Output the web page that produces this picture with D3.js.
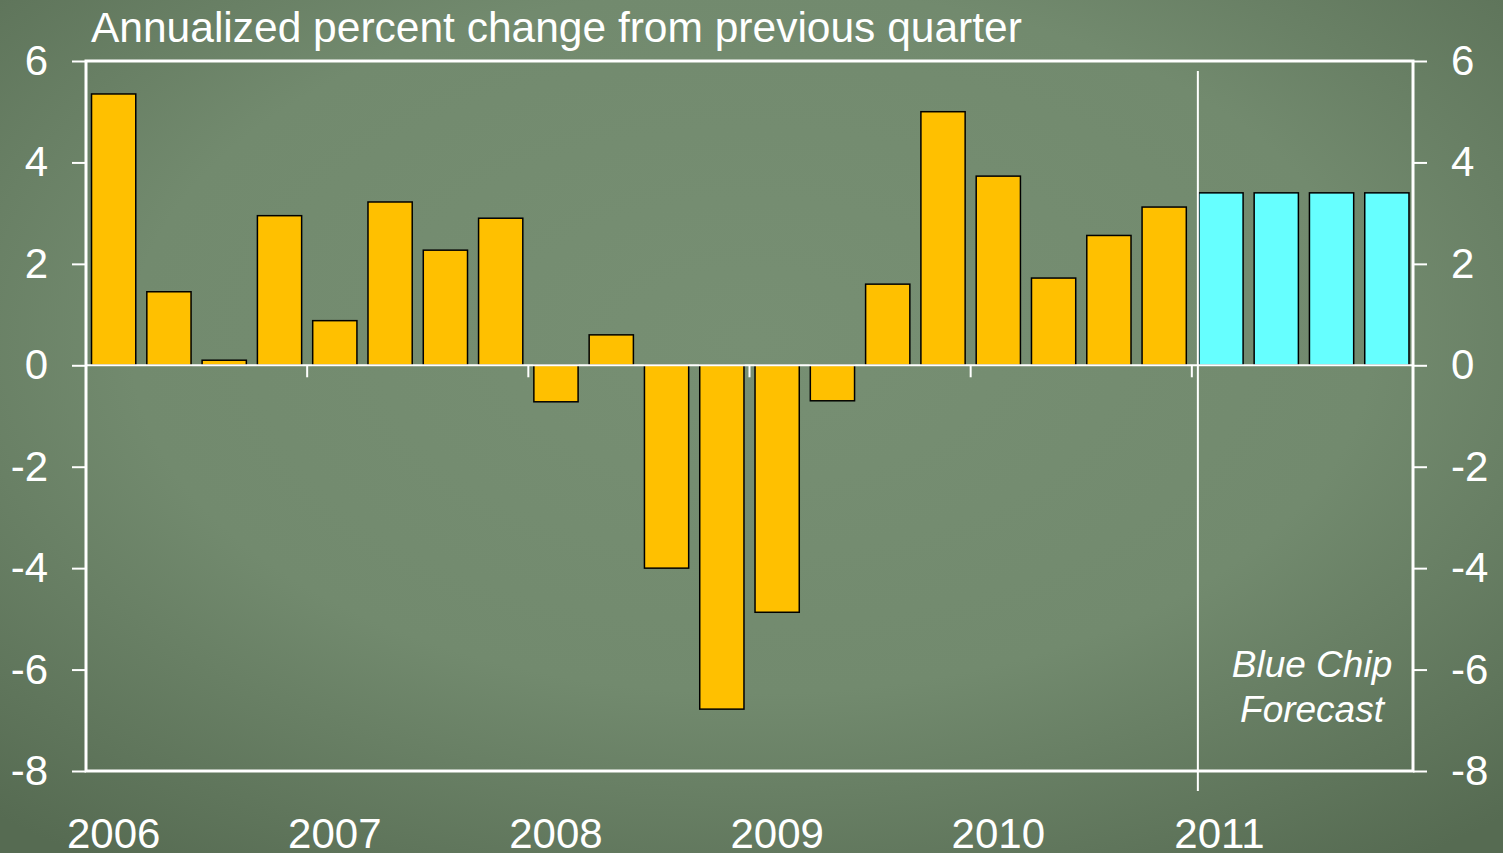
<!DOCTYPE html>
<html>
<head>
<meta charset="utf-8">
<script src="https://cdn.jsdelivr.net/npm/d3@7"></script>
<style>
  body { margin: 0; overflow: hidden; }
  svg { display: block; font-family: "Liberation Sans", Arial, sans-serif; }
</style>
</head>
<body>
<svg id="chart" width="1503" height="853"></svg>
<script>
var quarters = ["2006Q1","2006Q2","2006Q3","2006Q4","2007Q1","2007Q2","2007Q3","2007Q4",
                "2008Q1","2008Q2","2008Q3","2008Q4","2009Q1","2009Q2","2009Q3","2009Q4",
                "2010Q1","2010Q2","2010Q3","2010Q4","2011Q1","2011Q2","2011Q3","2011Q4"];
var actual = [5.35, 1.45, 0.1, 2.95, 0.88, 3.22, 2.27, 2.9,
              -0.72, 0.6, -4.0, -6.78, -4.87, -0.7, 1.6, 5.0,
              3.73, 1.72, 2.56, 3.12];
var forecast = [3.4, 3.4, 3.4, 3.4];
var yTicks = [6, 4, 2, 0, -2, -4, -6, -8];
var years = ["2006","2007","2008","2009","2010","2011"];

var svg = d3.select('#chart');
var W = 1503, H = 853;
var mLeft = 86, mRight = 1413, mTop = 61, mBottom = 771;

// background
var defs = svg.append('defs');
var grad = defs.append('radialGradient').attr('id', 'bg')
  .attr('cx', '50%').attr('cy', '40%').attr('r', '75%');
grad.append('stop').attr('offset', '0%').attr('stop-color', '#778f73');
grad.append('stop').attr('offset', '55%').attr('stop-color', '#728a6e');
grad.append('stop').attr('offset', '100%').attr('stop-color', '#566b52');
svg.append('rect').attr('width', W).attr('height', H).attr('fill', 'url(#bg)');

var x = d3.scaleBand().domain(quarters).range([mLeft, mRight]).paddingInner(0.2).paddingOuter(0.1);
var y = d3.scaleLinear().domain([-8, 6]).range([mBottom, mTop]);

var data = actual.map(function (v, i) { return { q: quarters[i], v: v, f: false }; })
  .concat(forecast.map(function (v, i) { return { q: quarters[actual.length + i], v: v, f: true }; }));

// bars
svg.selectAll('rect.bar')
  .data(data)
  .enter()
  .append('rect')
  .attr('class', 'bar')
  .attr('x', function (d) { return x(d.q) + (d.f ? 1.5 : 0); })
  .attr('width', x.bandwidth())
  .attr('y', function (d) { return y(Math.max(0, d.v)); })
  .attr('height', function (d) { return Math.abs(y(d.v) - y(0)); })
  .attr('fill', function (d) { return d.f ? '#66ffff' : '#ffc000'; })
  .attr('stroke', '#000')
  .attr('stroke-width', 1.5);

// frame
svg.append('rect')
  .attr('x', mLeft).attr('y', mTop)
  .attr('width', mRight - mLeft).attr('height', mBottom - mTop)
  .attr('fill', 'none').attr('stroke', '#fff').attr('stroke-width', 3);

// y axes (plain hyphen for negatives, like the original)
var fmt = function (d) { return String(d); };
var yl = svg.append('g').attr('transform', 'translate(' + mLeft + ',0)')
  .call(d3.axisLeft(y).tickValues(yTicks).tickSize(14).tickPadding(24).tickFormat(fmt));
var yr = svg.append('g').attr('transform', 'translate(' + mRight + ',0)')
  .call(d3.axisRight(y).tickValues(yTicks).tickSize(14).tickPadding(24).tickFormat(fmt));
[yl, yr].forEach(function (g) {
  g.select('.domain').remove();
  g.selectAll('line').attr('stroke', '#fff').attr('stroke-width', 2);
  g.selectAll('text').attr('fill', '#fff').style('font-size', '42px')
    .style('font-family', '"Liberation Sans", Arial, sans-serif');
});

// zero line with year ticks
var step = x.step();
svg.append('line')
  .attr('x1', mLeft).attr('x2', mRight)
  .attr('y1', y(0)).attr('y2', y(0))
  .attr('stroke', '#fff').attr('stroke-width', 2);
svg.selectAll('line.yeartick')
  .data(years.slice(1))
  .enter()
  .append('line')
  .attr('class', 'yeartick')
  .attr('x1', function (d) { return x(d + 'Q1') - step * 0.1; })
  .attr('x2', function (d) { return x(d + 'Q1') - step * 0.1; })
  .attr('y1', y(0)).attr('y2', y(0) + 12)
  .attr('stroke', '#fff').attr('stroke-width', 2);

// forecast divider
var fx = x('2011Q1') + 0.5;
svg.append('line')
  .attr('x1', fx).attr('x2', fx)
  .attr('y1', 71).attr('y2', 791)
  .attr('stroke', '#fff').attr('stroke-width', 2);

// year labels
svg.selectAll('text.year')
  .data(years)
  .enter()
  .append('text')
  .attr('class', 'year')
  .attr('x', function (d) { return x(d + 'Q1') + x.bandwidth() / 2; })
  .attr('y', 848)
  .attr('text-anchor', 'middle')
  .attr('fill', '#fff')
  .style('font-size', '42px')
  .text(function (d) { return d; });

// title
svg.append('text')
  .attr('x', 91).attr('y', 42)
  .attr('fill', '#fff')
  .style('font-size', '42.5px')
  .text('Annualized percent change from previous quarter');

// forecast label
var fl = svg.append('text')
  .attr('y', 677)
  .attr('text-anchor', 'middle')
  .attr('fill', '#fff')
  .style('font-size', '37px')
  .style('font-style', 'italic');
fl.append('tspan').attr('x', 1312).text('Blue Chip');
fl.append('tspan').attr('x', 1312).attr('dy', 45).text('Forecast');
</script>
</body>
</html>
